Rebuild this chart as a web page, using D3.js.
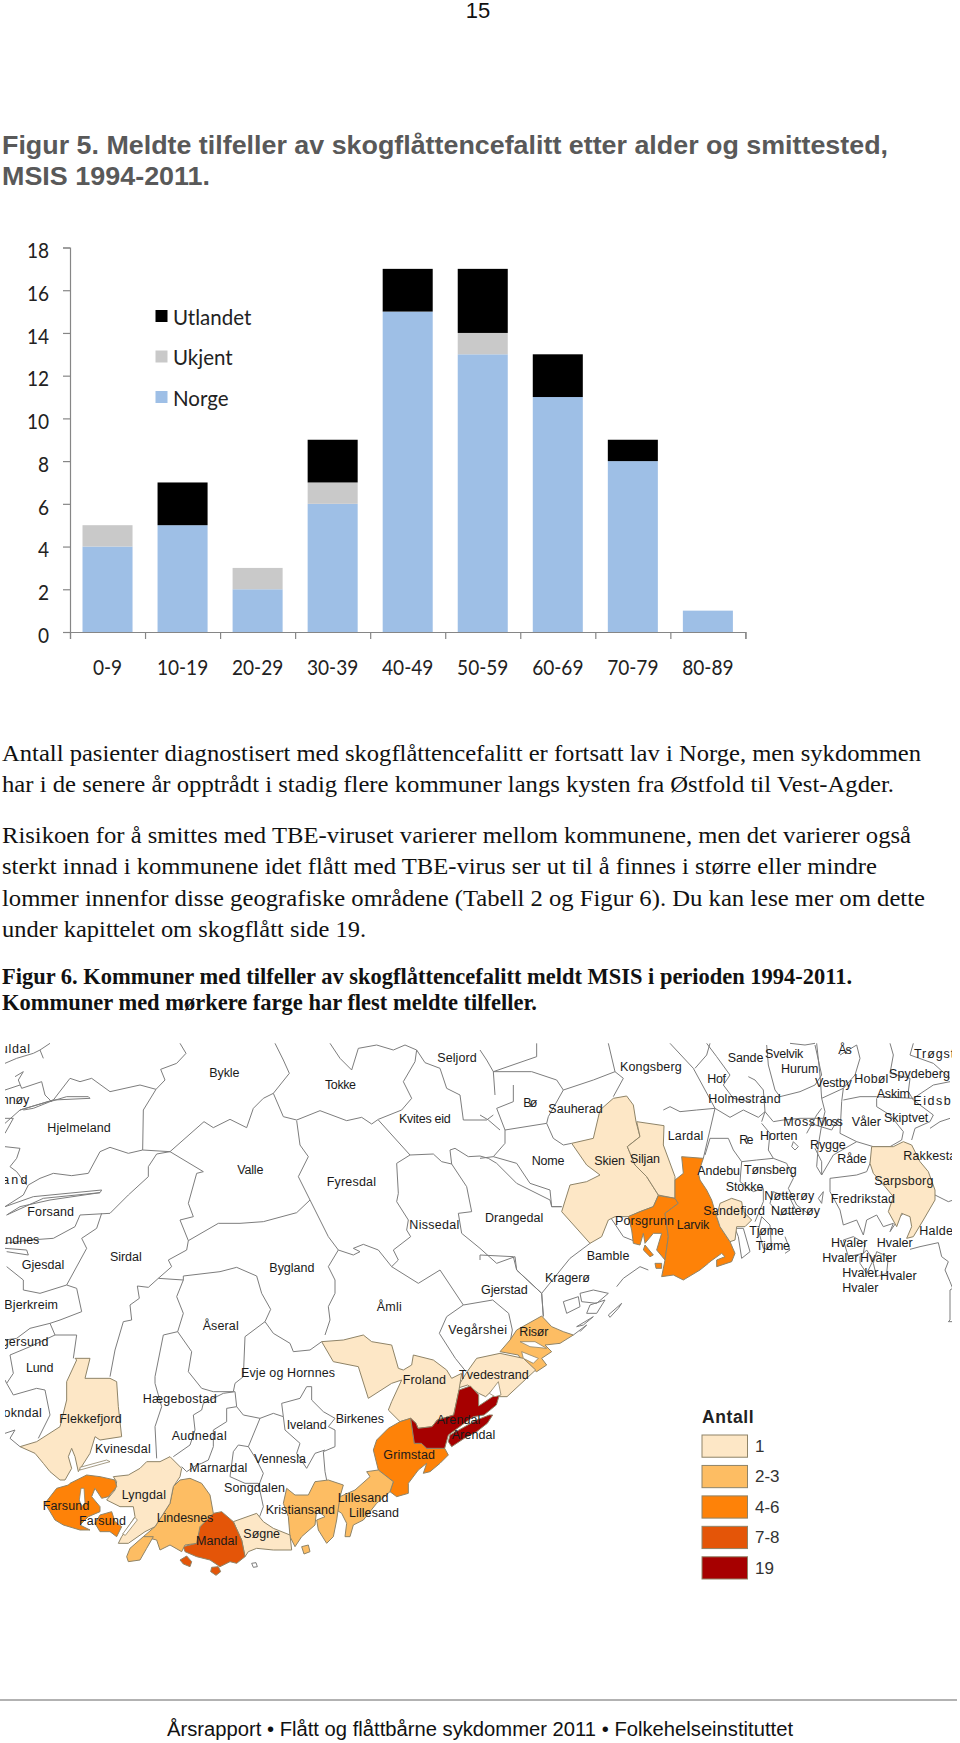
<!DOCTYPE html>
<html><head><meta charset="utf-8">
<script src="https://cdn.jsdelivr.net/npm/d3@7/dist/d3.min.js"></script>
<style>html,body{margin:0;padding:0;background:#fff}svg{display:block}</style></head>
<body><svg id="c" width="960" height="1743"></svg>
<script>
// ---- bar chart data
const ageGroups=["0-9","10-19","20-29","30-39","40-49","50-59","60-69","70-79","80-89"];
const norge=[4,5,2,6,15,13,11,8,1];
const ukjent=[1,0,1,1,0,1,0,0,0];
const utlandet=[0,2,0,2,2,3,2,1,0];
const seriesNames=["Norge","Ukjent","Utlandet"];
const seriesColors=["#9ebfe6","#c9c9c9","#000000"];
const yTicks=[0,2,4,6,8,10,12,14,16,18];

// ---- text
const pageNo="15";
const heading=["Figur 5. Meldte tilfeller av skogflåttencefalitt etter alder og smittested,","MSIS 1994-2011."];
const body1=["Antall pasienter diagnostisert med skogflåttencefalitt er fortsatt lav i Norge, men sykdommen","har i de senere år opptrådt i stadig flere kommuner langs kysten fra Østfold til Vest-Agder."];
const body2=["Risikoen for å smittes med TBE-viruset varierer mellom kommunene, men det varierer også","sterkt innad i kommunene idet flått med TBE-virus ser ut til å finnes i større eller mindre","lommer innenfor disse geografiske områdene (Tabell 2 og Figur 6). Du kan lese mer om dette","under kapittelet om skogflått side 19."];
const fig6=["Figur 6. Kommuner med tilfeller av skogflåttencefalitt meldt MSIS i perioden 1994-2011.","Kommuner med mørkere farge har flest meldte tilfeller."];
const footer="Årsrapport • Flått og flåttbårne sykdommer 2011 • Folkehelseinstituttet";

// ---- map legend
const classLabels=["1","2-3","4-6","7-8","19"];
const classColors=["#fde7c6","#fdbd63","#fe8208","#e45508","#a60000"];

// ---- map: municipalities with cases, map units, [class, x,y, x,y ...]
const skien=[0,1840,205,1880,198,1900,225,1908,275,1920,320,1882,350,1905,405,1940,440,1975,495,1960,530,1920,545,1885,560,1845,560,1825,570,1805,620,1770,640,1685,545,1710,465,1760,455,1800,435,1760,405,1715,340,1780,325,1800,240];
const siljan=[0,1910,275,1992,287,1990,345,2025,440,2025,505,1975,495,1940,440,1905,405,1882,350,1920,320];
const porsgrunn=[2,1975,497,2025,505,2035,520,2015,535,1995,550,2005,620,1995,690,1970,660,1985,610,1960,610,1935,640,1930,610,1920,645,1900,640,1895,600,1885,560,1920,545,1960,530];
const larvik=[2,2045,380,2110,385,2095,430,2100,450,2120,480,2135,510,2150,560,2160,590,2190,635,2205,670,2195,695,2150,710,2150,690,2175,680,2165,670,2130,695,2125,700,2100,720,2050,750,2020,735,1985,740,1995,690,2005,620,1995,550,2015,535,2035,520,2025,505,2025,450,2050,430];
const sandefjord=[0,2160,520,2195,505,2225,515,2230,545,2255,570,2235,590,2210,590,2205,630,2190,635,2160,590,2150,560];
const risor=[1,1625,858,1655,890,1690,905,1720,915,1680,940,1635,945,1655,965,1625,985,1640,1005,1610,1025,1570,1000,1555,975,1500,965,1530,930,1550,900];
const tvedestrand=[0,1430,985,1500,970,1570,985,1607,1020,1580,1045,1521,1100,1489,1100,1478,1080,1457,1100,1436,1090,1403,1065,1371,1075,1398,1030];
const arendal=[4,1377,1080,1411,1068,1436,1095,1436,1128,1478,1100,1498,1095,1489,1125,1452,1155,1420,1160,1345,1215,1334,1255,1280,1255,1264,1240,1243,1240,1232,1165,1248,1180,1254,1195,1296,1190,1312,1170,1361,1155];
const tromoy=[4,1350,1215,1430,1170,1468,1155,1478,1155,1462,1180,1430,1205,1393,1225,1355,1250,1345,1235];
const froland=[0,965,935,1030,930,1090,915,1115,935,1175,945,1195,1015,1210,1020,1235,1005,1240,975,1300,990,1340,1020,1355,1045,1385,1030,1377,1080,1361,1155,1312,1170,1296,1190,1254,1195,1248,1180,1232,1165,1200,1175,1165,1140,1175,1115,1205,1050,1175,1060,1105,1105,1075,1010,1000,995];
const grimstad=[2,1200,1175,1232,1165,1243,1240,1264,1240,1280,1255,1334,1255,1345,1275,1320,1300,1290,1325,1270,1330,1280,1300,1255,1320,1225,1360,1225,1390,1190,1400,1170,1385,1180,1355,1135,1320,1120,1260,1130,1230,1165,1195];
const lillesand=[1,1100,1325,1135,1320,1180,1355,1170,1385,1130,1420,1090,1470,1060,1485,1050,1520,1035,1520,1040,1480,1025,1450,1010,1440,1020,1400,1065,1380,1110,1340];
const kristiansand=[1,860,1375,885,1395,925,1395,945,1355,985,1350,1030,1365,1020,1400,1010,1470,1000,1520,980,1540,955,1500,950,1470,975,1460,950,1440,945,1485,905,1520,885,1550,870,1520,865,1460,850,1420];
const sogne=[0,700,1475,770,1450,790,1475,820,1495,870,1515,875,1560,820,1560,770,1555,745,1565,735,1580,725,1530];
const mandal=[3,640,1450,665,1445,700,1475,725,1530,735,1580,710,1600,690,1595,660,1610,630,1590,590,1580,555,1565,550,1550,590,1540,600,1490];
const lindesnes=[1,520,1370,540,1350,570,1345,605,1360,630,1395,640,1450,600,1490,590,1540,555,1545,545,1565,510,1545,480,1560,470,1530,430,1520,465,1490,510,1420];
const lindesnesS=[1,380,1580,390,1555,430,1520,460,1520,440,1555,420,1590,385,1595];
const lyngdal=[0,340,1340,385,1335,420,1315,440,1295,480,1295,510,1280,545,1315,540,1340,520,1370,510,1420,465,1490,435,1505,385,1540,355,1540,365,1520,405,1460,400,1430,360,1430,320,1410,345,1380,350,1355];
const farsundA=[2,210,1360,260,1335,300,1340,345,1350,350,1370,325,1400,305,1405,285,1375,275,1400,300,1430,300,1445,265,1460,240,1485,270,1500,240,1500,190,1485,165,1470,135,1420,170,1375,205,1365];
const farsundB=[2,300,1455,335,1445,345,1475,365,1490,350,1520,330,1505,300,1505,285,1480];
const flekkefjord=[0,225,985,270,985,255,1045,330,1045,350,1055,355,1130,365,1220,300,1230,285,1220,270,1270,235,1325,225,1280,215,1255,205,1280,215,1315,195,1350,180,1350,150,1325,130,1300,105,1270,60,1250,110,1235,180,1190,200,1110,200,1055,230,990];
const sarpsborg=[0,2615,350,2680,350,2710,335,2735,345,2760,395,2785,425,2805,480,2805,510,2770,570,2740,620,2720,625,2735,590,2730,560,2705,550,2690,590,2665,545,2680,500,2655,470,2620,430,2610,400];
const mandalIsleA=[3,540,1590,560,1578,575,1595,570,1610,550,1602];
const mandalIsleB=[3,635,1612,655,1610,662,1625,648,1636,632,1625];
const krsIsle=[1,905,1550,925,1545,930,1565,912,1572];
const porsIsleA=[2,1935,645,1960,675,1950,680,1930,660];
const porsIsleB=[2,1965,700,1985,700,1985,715,1968,715];
const municipalities=[skien,siljan,porsgrunn,larvik,sandefjord,risor,tvedestrand,froland,grimstad,arendal,tromoy,lillesand,kristiansand,sogne,mandal,lindesnes,lindesnesS,lyngdal,farsundA,farsundB,flekkefjord,sarpsborg,mandalIsleA,mandalIsleB,krsIsle,porsIsleA,porsIsleB];
// water cuts inside coloured municipalities
const farsundSlit=[243,1375,252,1375,255,1420,245,1430,238,1410];
const risorSlitA=[1560,935,1605,935,1640,955,1590,950];
const risorSlitB=[1565,965,1615,985,1600,1000,1570,985];
const flekkeSlit=[240,1320,330,1295,320,1290,240,1312];
const lyngdalSlit=[368,1512,405,1462,412,1470,376,1516];
const tvedeSlit=[1468,1090,1495,1055,1503,1095,1485,1100];
const waterCuts=[farsundSlit,risorSlitA,risorSlitB,flekkeSlit,lyngdalSlit,tvedeSlit];

// ---- map: other borders and coast, map units, x,y ...
const borders=[
[540,40,558,70,530,100,482,118,495,150,468,178,430,240,428,360],
[15,280,60,240,160,210,210,145,240,155,275,145,330,185,420,165,468,178],
[510,365,612,275,640,293,690,268,740,293,760,235,790,205,820,190,868,130,850,90,825,40],
[820,190,850,260,890,270,960,242,1040,272,1085,262,1115,282,1135,268,1205,240,1235,205,1210,155,1245,95,1250,60,1215,45,1180,60,1130,45,1075,55,1055,120,1020,85,990,40],
[1250,60,1275,98,1320,115,1340,175,1380,195,1390,270,1460,270,1480,255],
[428,360,385,370,330,352,300,365,265,430,215,437,160,430,120,445,85,465,70,495,15,530],
[428,360,510,365,610,425,590,430,565,520,580,560,540,570,565,632,655,580,720,580,790,575,890,548,930,510],
[510,365,470,372,445,410,445,440,385,495,330,550,240,555,225,590,160,625,90,630,15,640],
[305,550,290,595,245,625,260,655,200,765,120,790,70,780,70,750,20,710],
[200,765,230,775,245,845,180,870,150,880,90,895,50,925,15,930],
[150,880,165,915,230,915,220,985],
[165,915,90,950,30,975,40,1030,20,1060,40,1095,110,1075,135,1080,150,1155,115,1225],
[15,1210,45,1200,30,1225,60,1250],
[890,272,900,345,925,380,895,440,930,510,985,620,1015,660,1060,675,1080,665,1060,655,1090,643,1135,660,1175,710],
[1135,270,1230,375,1300,372,1325,395,1355,402,1350,360,1365,355,1405,380,1440,378,1465,385,1490,400,1550,460,1590,480,1650,510,1655,530,1685,530],
[1230,375,1190,400,1195,490,1190,515,1225,570,1220,600,1232,620,1180,660,1195,690,1175,710,1255,760,1320,720,1390,825],
[1355,402,1400,470,1415,545,1375,550,1385,610,1440,655,1490,700,1545,680,1550,720,1625,790],
[1015,660,985,710,1005,750,1005,790,985,830,990,870,975,915],
[565,632,560,660,505,690,515,710,475,745,550,750,550,738,660,725,710,712,770,738,785,790,812,838,795,875,820,910,870,940,880,965,930,960,965,935],
[475,745,445,772,412,768,418,805,390,825,395,870,370,875,345,960,330,1040],
[550,750,530,800,550,850,533,905,490,915,465,1040,465,1060,485,1130,465,1190,470,1285],
[533,905,575,965,565,1025,605,1075,640,1085,700,1085,705,1060,730,1040,735,920,795,875],
[705,1085,710,1130,730,1155,780,1165,745,1250,715,1245,700,1265,690,1340,735,1360,775,1360,790,1430,775,1470],
[705,1085,670,1090,610,1120,605,1140,580,1155,585,1200,570,1245,520,1280],
[710,1130,680,1135,680,1175,640,1200,640,1250,625,1290,605,1300,590,1305,560,1325,545,1310],
[780,1165,820,1150,850,1160,845,1120,900,1105,920,1070,935,1070,935,1110,970,1145,1005,1165,985,1190,1005,1200,1005,1250,970,1265,975,1325,980,1350],
[850,1160,855,1200,900,1240,890,1270,920,1315,945,1270,975,1260],
[745,1250,770,1290,790,1330,775,1370],
[1625,790,1630,858],
[1390,825,1340,860,1318,910,1366,985,1398,1025],
[1526,850,1537,900,1526,960],[1478,810,1526,850],[1390,825,1478,810],
[15,100,50,85,100,70,120,60,150,40],[120,60,130,85],
[45,140,70,125,55,150,65,175,125,155,135,195,155,215],[15,180,60,165],
[60,240,160,210,270,205,265,200,200,200,150,215,100,235,70,240],
[15,310,40,265,15,265],
[15,350,60,355,50,385,30,410,50,425,80,465],
[15,530,100,500,305,480,300,488,130,505,20,555,60,530,150,510,300,488],
[15,655,80,660,85,675,20,665],
[20,1060,15,1050],
[1440,60,1460,90,1480,125,1595,125,1670,150,1690,180,1780,150,1845,125,1825,40],
[1610,40,1610,80,1480,125,1485,195],
[1845,125,1870,145,1840,200],
[1540,165,1540,215,1490,235,1515,300,1640,280,1660,325,1690,345,1715,340],
[1690,180,1645,260,1640,280],
[1515,300,1515,340,1480,380,1440,385],[1440,255,1465,270,1500,300],
[1480,380,1550,400,1590,460,1650,480,1655,530,1685,530],
[1770,640,1710,685,1625,790,1630,860],
[1440,690,1440,675,1540,680,1550,720,1625,790],
[1990,240,2010,230,2040,245,2090,240,2145,235,2110,385],
[2010,40,2080,115,2145,235],[2085,115,2120,75,2130,40],
[2120,40,2150,80,2190,135,2170,165,2200,205,2250,215],
[2300,45,2305,105,2325,180,2340,200,2400,185,2445,165,2465,135,2445,45],
[2245,140,2265,150,2290,180,2295,245,2285,275],
[2145,235,2190,262,2230,240,2275,262,2295,245,2320,275,2350,270,2400,265,2470,265],
[2450,40,2460,135,2465,205,2475,245,2465,285,2455,345,2450,410,2465,435],
[2530,175,2525,215,2520,310,2570,335,2620,350,2670,350,2705,330,2710,305,2670,255,2630,230,2630,205],
[2530,210,2580,200,2630,200,2740,205,2800,165,2850,155],
[2735,330,2745,295,2790,275,2800,255,2740,210,2725,185,2730,145,2670,130,2680,75,2670,40],
[2520,75,2570,45,2580,85,2565,135,2530,175,2465,205],
[2740,40,2730,75,2800,100,2850,145],
[2790,295,2820,275,2850,265],
[2805,495,2845,515,2860,510],
[2445,355,2465,395,2465,435,2500,375,2570,335],
[2490,445,2570,435,2600,425,2610,400,2620,355],
[2490,445,2490,485,2520,540,2530,585,2570,570,2590,615,2600,570,2630,555,2650,590,2680,580,2670,605,2700,560,2710,550],
[2530,630,2560,620,2595,640,2590,670,2545,680,2530,630],
[2580,680,2600,660,2620,690,2600,730,2580,700,2580,680],
[2630,665,2665,680,2660,730,2630,740,2620,700,2630,665],
[2730,658,2760,650,2815,638,2825,680,2845,695,2835,720,2850,755,2858,775,2850,780,2850,870,2845,875,2858,875],
[2285,280,2310,310,2305,360,2320,385,2270,390,2225,395,2200,360,2185,325,2130,325,2115,375],
[2320,385,2360,400,2380,445,2365,475,2390,525,2430,555],
[2225,395,2220,455,2260,485,2290,475,2290,515,2265,575],
[2205,595,2230,595,2250,665,2225,685,2215,620,2205,595],
[2285,560,2310,585,2315,660,2290,655,2275,600,2285,560],
[2355,620,2370,660,2355,670],
[2320,485,2370,505,2390,545,2340,555,2310,520,2320,485],
[2380,335,2395,350,2385,360,2375,350,2380,335],
[2470,485,2465,520,2455,505,2470,485],
[2420,310,2450,255,2465,235],[2430,280,2495,300,2515,265],
[2370,40,2415,45,2445,40],
[1830,560,1870,620,1920,640],[1850,770,1870,745,1920,710,1945,720],
[1690,815,1735,800,1740,830,1700,850,1690,815],
[1740,790,1780,780,1825,790,1790,820,1745,815,1740,790],
[1770,825,1815,810,1790,850,1760,850,1770,825],
[1825,855,1865,820,1855,835,1830,862,1825,855],
[1730,890,1780,860,1750,885,1730,890],
[1720,915,1760,885,1740,905],
[755,1600,768,1598,772,1610,760,1612,755,1600]
];

// ---- map: place names [name, start, end, baseline] in map units
const placeLabels=[
["Suldal",-25,90,70],["Finnøy",-25,88,222],["Bykle",628,718,140],["Tokke",975,1068,177],["Seljord",1312,1430,96],
["Kvites eid",1197,1352,278],["Hjelmeland",142,332,306],["Valle",712,790,431],["Fyresdal",980,1128,467],["Strand",-60,82,463],
["Forsand",82,222,558],["Nissedal",1228,1378,598],["Sandnes",-30,118,642],["Gjesdal",65,193,718],["Sirdal",330,425,692],
["Bygland",808,943,725],["Bjerkreim",13,174,838],["Åseral",608,716,899],["Åmli",1130,1205,844],["Vegårshei",1345,1521,912],
["Risør",1558,1645,918],["Eigersund",-30,145,947],["Lund",78,160,1026],["Evje og Hornnes",723,1005,1042],["Froland",1208,1338,1062],
["Tvedestrand",1377,1586,1048],["Hægebostad",428,650,1118],["Sokndal",-15,125,1162],["Flekkefjord",178,365,1180],["Iveland",860,980,1197],
["Birkenes",1007,1152,1180],["Audnedal",515,680,1230],["Kvinesdal",285,452,1270],["Grimstad",1150,1305,1288],["Arendal",1310,1441,1182],
["Arendal",1355,1486,1226],["Vennesla",762,918,1298],["Marnardal",568,742,1325],["Songdalen",672,855,1387],["Lyngdal",365,498,1408],
["Lillesand",1013,1165,1415],["Lillesand",1047,1197,1460],["Farsund",128,268,1440],["Kristiansand",797,1005,1452],["Lindesnes",470,640,1477],
["Farsund",237,378,1485],["Søgne",730,840,1525],["Mandal",588,712,1545],
["Kongsberg",1860,2045,122],["Sande",2183,2290,96],["Svelvik",2295,2410,83],["Ås",2515,2555,72],["Trøgstad",2742,2910,85],
["Hurum",2343,2455,128],["Spydeberg",2667,2850,143],["Hof",2122,2178,160],["Vestby",2445,2555,172],["Hobøl",2563,2665,160],
["Holmestrand",2125,2342,218],["Askim",2630,2730,205],["Eidsberg",2740,2920,226],["Bø",1570,1612,232],["Sauherad",1645,1808,248],
["Moss",2350,2445,287],["Moss",2450,2528,287],["Våler",2555,2643,287],["Skiptvet",2652,2785,275],["Lardal",2003,2110,329],
["Re",2218,2260,342],["Horten",2280,2392,329],["Rygge",2430,2537,358],["Råde",2512,2600,400],["Rakkestad",2710,2890,390],
["Nome",1595,1693,405],["Skien",1783,1875,405],["Siljan",1890,1980,398],["Andebu",2092,2220,434],["Tønsberg",2232,2390,432],
["Sarpsborg",2623,2800,464],["Stokke",2177,2290,484],["Nøtterøy",2293,2443,510],["Fredrikstad",2492,2685,520],["Sandefjord",2110,2295,555],
["Nøtterøy",2313,2460,555],["Drangedal",1455,1630,576],["Porsgrunn",1845,2022,586],["Larvik",2030,2128,597],["Tjøme",2248,2352,615],
["Halden",2758,2880,616],["Hvaler",2493,2602,650],["Hvaler",2630,2738,650],["Tjøme",2267,2370,660],["Bamble",1760,1888,689],
["Hvaler",2467,2575,695],["Hvaler",2580,2690,697],["Kragerø",1635,1770,755],["Hvaler",2527,2635,742],["Hvaler",2640,2750,750],
["Gjerstad",1443,1583,793],["Hvaler",2527,2635,785]
];

const svg=d3.select("#c");
const SANS="'Liberation Sans',Arial,sans-serif", SERIF="'Liberation Serif','Times New Roman',serif", CHART="Lato,sans-serif";

// page text
function lines(arr,x,ys,ends,family,size,color,weight){
  svg.append("g").selectAll("text").data(arr).join("text")
   .attr("x",x).attr("y",(d,i)=>ys[i]).attr("textLength",(d,i)=>ends[i]-x).attr("lengthAdjust","spacingAndGlyphs")
   .attr("font-family",family).attr("font-size",size).attr("font-weight",weight||400).attr("fill",color).text(d=>d);
}
svg.append("text").attr("x",478).attr("y",18).attr("text-anchor","middle").attr("font-family",SANS).attr("font-size",22).attr("fill","#111").text(pageNo);
lines(heading,2,[154,185],[888,210],SANS,26.5,"#595959",700);
lines(body1,2,[761,792],[921,894],SERIF,24,"#111");
lines(body2,2,[843,874,906,937],[911,877,925,366],SERIF,24,"#111");
lines(fig6,2,[984,1010],[852,537],SERIF,24,"#111",700);

// bar chart
const x=d3.scaleBand().domain(ageGroups).range([70,745.4]).paddingInner(1/3).paddingOuter(1/6);
const xEdge=d3.scaleLinear().domain([0,ageGroups.length]).range([70,745.4]);
const y=d3.scaleLinear().domain([0,18]).range([632,247.5]);
const rows=ageGroups.map((a,i)=>({age:a,Norge:norge[i],Ukjent:ukjent[i],Utlandet:utlandet[i]}));
const stack=d3.stack().keys(seriesNames)(rows);
const chart=svg.append("g");
chart.selectAll("g.s").data(stack).join("g").attr("class","s").attr("fill",(d,i)=>seriesColors[i])
 .selectAll("rect").data(d=>d).join("rect")
 .attr("x",d=>x(d.data.age)).attr("width",x.bandwidth()).attr("y",d=>y(d[1])).attr("height",d=>y(d[0])-y(d[1]));
const AX="#868686";
const gy=chart.append("g").attr("transform","translate(70,0)").call(d3.axisLeft(y).tickValues(yTicks).tickSize(7).tickPadding(14));
const gx=chart.append("g").attr("transform","translate(0,632)").call(d3.axisBottom(xEdge).tickValues(d3.range(ageGroups.length+1)).tickSize(7).tickFormat(""));
const gl=chart.append("g").attr("transform","translate(0,632)").call(d3.axisBottom(x).tickSize(0).tickPadding(28));
gl.select(".domain").remove();
[gy,gx].forEach(g=>{g.selectAll("path,line").attr("stroke",AX).attr("stroke-width",1.2)});
[gy,gl].forEach(g=>g.selectAll("text").attr("font-family",CHART).attr("font-size",20.5).attr("fill","#222"));
gy.selectAll("text").attr("dy","0.5em");
// the original's tick font is narrower than Lato: keep size, compress width
[gy,gl].forEach(g=>g.selectAll("text").each(function(){
  this.setAttribute("textLength",this.getComputedTextLength()*0.93);
  this.setAttribute("lengthAdjust","spacingAndGlyphs");
}));
const legendOrder=[2,1,0];
const lg=chart.append("g");
lg.selectAll("rect").data(legendOrder).join("rect").attr("x",155.5).attr("y",(d,i)=>310+i*40.5).attr("width",12).attr("height",12).attr("fill",d=>seriesColors[d]);
lg.selectAll("text").data(legendOrder).join("text").attr("x",173).attr("y",(d,i)=>324.5+i*40.5).attr("font-family",CHART).attr("font-size",20.5).attr("fill","#222").text(d=>seriesNames[d]);

// map
const mapX=d3.scaleLinear().domain([0,2880]).range([0,960]);
const mapY=d3.scaleLinear().domain([0,2139]).range([1030,1743]);
const toPts=a=>d3.range(0,a.length-1,2).map(i=>[a[i],a[i+1]]);
const path=d3.line().x(p=>mapX(p[0])).y(p=>mapY(p[1]));
const defs=svg.append("defs");
defs.append("clipPath").attr("id","mapclip").append("rect").attr("x",5).attr("y",1042).attr("width",947).attr("height",560);
const map=svg.append("g").attr("clip-path","url(#mapclip)");
map.append("g").attr("fill","none").attr("stroke","#7d7d7d").attr("stroke-width",1).attr("stroke-linejoin","round")
 .selectAll("path").data(borders).join("path").attr("d",d=>path(toPts(d)));
map.append("g").attr("stroke","#8f8468").attr("stroke-width",1).attr("stroke-linejoin","round")
 .selectAll("path").data(municipalities).join("path")
 .attr("fill",d=>classColors[d[0]]).attr("d",d=>path(toPts(d.slice(1)))+"Z");
map.append("g").attr("fill","#fff").attr("stroke","#8f8468").attr("stroke-width",.8)
 .selectAll("path").data(waterCuts).join("path").attr("d",d=>path(toPts(d))+"Z");
map.append("g").attr("font-family",SANS).attr("font-size",12.5).attr("fill","#1a1a1a")
 .selectAll("text").data(placeLabels).join("text")
 .attr("x",d=>mapX(d[1])).attr("y",d=>mapY(d[3])).attr("textLength",d=>mapX(d[2])-mapX(d[1])).attr("lengthAdjust","spacing").text(d=>d[0]);

// map legend
const leg=svg.append("g");
const slot=d3.scaleBand().domain(classLabels).range([1435,1579]).paddingInner(0.27);
leg.append("text").attr("x",702).attr("y",1423).attr("font-family",SANS).attr("font-weight",700).attr("font-size",17.5).attr("fill","#222").attr("letter-spacing",.6).text("Antall");
leg.selectAll("rect").data(classLabels).join("rect").attr("x",702).attr("y",d=>slot(d)).attr("width",45.5).attr("height",slot.bandwidth())
 .attr("fill",(d,i)=>classColors[i]).attr("stroke","#8f8468").attr("stroke-width",1);
leg.selectAll("text.l").data(classLabels).join("text").attr("class","l").attr("x",755).attr("y",d=>slot(d)+slot.bandwidth()-5.5)
 .attr("font-family",SANS).attr("font-size",17).attr("fill","#333").text(d=>d);

// footer
svg.append("line").attr("x1",0).attr("x2",957).attr("y1",1700).attr("y2",1700).attr("stroke","#666").attr("stroke-width",1.2);
svg.append("text").attr("x",167).attr("y",1736).attr("textLength",626).attr("lengthAdjust","spacingAndGlyphs").attr("font-family",SANS).attr("font-size",19.6).attr("fill","#111").text(footer);
</script></body></html>
